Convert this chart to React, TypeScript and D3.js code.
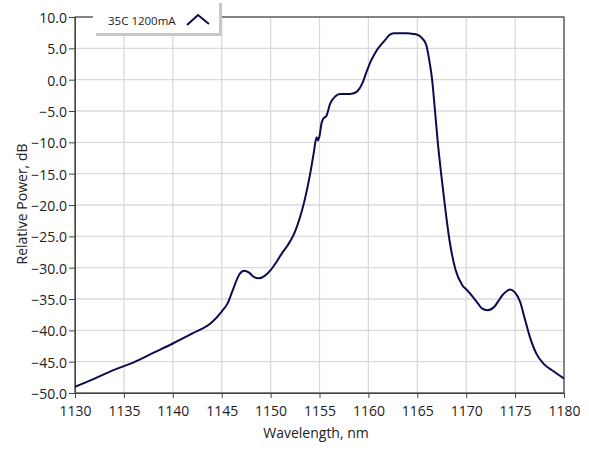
import { useEffect, useRef } from 'react';
import * as d3 from 'd3';

const wavelengths = [
  1130, 1132, 1134, 1136, 1138, 1140, 1142, 1144, 1145, 1145.6, 1146.2, 1146.8, 1147.3, 1147.8,
  1148.3, 1148.8, 1149.4, 1150, 1150.6, 1151.2, 1151.8, 1152.4, 1153, 1153.5, 1154, 1154.4,
  1154.7, 1154.85, 1155, 1155.2, 1155.4, 1155.7, 1156.1, 1156.6, 1157.1, 1157.8, 1158.4, 1158.9,
  1159.4, 1159.8, 1160.2, 1160.6, 1160.9, 1161.3, 1161.7, 1162.2, 1162.7, 1163.2, 1163.9, 1164.6,
  1165.1, 1165.5, 1165.9, 1166.1, 1166.3, 1166.5, 1166.8, 1167.1, 1167.4, 1167.8, 1168.3, 1168.9,
  1169.6, 1170.1, 1170.7, 1171.2, 1171.6, 1172.2, 1172.9, 1173.3, 1173.7, 1174.1, 1174.5, 1175,
  1175.5, 1176, 1176.5, 1177.2, 1177.9, 1178.9, 1180,
];

const powerDb = [
  -49.0, -47.7, -46.3, -45.1, -43.6, -42.1, -40.5, -38.7, -37.0, -35.7, -33.3, -31.1, -30.5, -30.8,
  -31.5, -31.7, -31.3, -30.4, -29.1, -27.6, -26.3, -24.6, -22.0, -19.1, -15.4, -11.8,
  -9.2, -9.7, -9.0, -7.0, -6.2, -5.8, -3.8, -2.7, -2.3, -2.3, -2.2, -1.8,
  -0.5, 1.2, 2.8, 4.0, 4.8, 5.6, 6.3, 7.2, 7.4, 7.4, 7.4, 7.3,
  7.1, 6.6, 5.6, 4.2, 2.4, 0.2, -4.8, -10.1, -14.5, -19.8, -25.7, -30.3,
  -32.8, -33.6, -34.7, -35.7, -36.5, -36.8, -36.2, -35.3, -34.4, -33.8, -33.5, -34.0,
  -35.4, -38.2, -41.0, -43.8, -45.3, -46.5, -47.7,
];

const xTicks = [1130, 1135, 1140, 1145, 1150, 1155, 1160, 1165, 1170, 1175, 1180];
const yTicks = [10, 5, 0, -5, -10, -15, -20, -25, -30, -35, -40, -45, -50];
const seriesName = '35C 1200mA';

export default function App() {
  const svgRef = useRef<SVGSVGElement>(null);

  useEffect(() => {
    if (!svgRef.current) return;
    const width = 589;
    const height = 456;
    const margin = { top: 17, left: 75 };
    const innerWidth = 564 - margin.left;
    const innerHeight = 393 - margin.top;
    const font = '"Open Sans", "Noto Sans", sans-serif';
    const lineColor = '#0b0b4f';

    const svg = d3.select(svgRef.current);
    svg.selectAll('*').remove();
    svg.attr('width', width).attr('height', height);

    svg.append('rect').attr('width', width).attr('height', height).attr('fill', '#fff');

    const g = svg.append('g').attr('transform', `translate(${margin.left},${margin.top})`);

    const x = d3.scaleLinear().domain([1130, 1180]).range([0, innerWidth]);
    const y = d3.scaleLinear().domain([-50, 10]).range([innerHeight, 0]);

    // grid
    g.append('g')
      .selectAll('line')
      .data(xTicks)
      .join('line')
      .attr('x1', d => x(d))
      .attr('x2', d => x(d))
      .attr('y1', 0)
      .attr('y2', innerHeight)
      .attr('stroke', '#dadada')
      .attr('stroke-width', 1.3);

    g.append('g')
      .selectAll('line')
      .data(yTicks)
      .join('line')
      .attr('x1', 0)
      .attr('x2', innerWidth)
      .attr('y1', d => y(d))
      .attr('y2', d => y(d))
      .attr('stroke', '#dadada')
      .attr('stroke-width', 1.3);

    // frame
    g.append('rect')
      .attr('width', innerWidth)
      .attr('height', innerHeight)
      .attr('fill', 'none')
      .attr('stroke', '#444')
      .attr('stroke-width', 1.2);

    // axes
    const xAxis = g.append('g')
      .attr('transform', `translate(0,${innerHeight})`)
      .call(d3.axisBottom(x).tickValues(xTicks).tickFormat(d3.format('d')).tickSize(5).tickSizeOuter(0).tickPadding(8));
    xAxis.select('.domain').attr('stroke', '#444');
    xAxis.selectAll('.tick line').attr('stroke', '#444');
    xAxis.selectAll('text')
      .style('font-family', font)
      .style('font-size', '14px')
      .style('fill', '#222');

    const yAxis = g.append('g')
      .call(d3.axisLeft(y).tickValues(yTicks).tickFormat(d3.format('.1f')).tickSize(6).tickSizeOuter(0).tickPadding(2));
    yAxis.select('.domain').attr('stroke', '#444');
    yAxis.selectAll('.tick line').attr('stroke', '#444');
    yAxis.selectAll('text')
      .attr('dy', '0.4em')
      .style('font-family', font)
      .style('font-size', '14px')
      .style('fill', '#222');

    // series
    const data = wavelengths.map((w, i) => ({ w, p: powerDb[i] }));
    const line = d3.line<{ w: number; p: number }>()
      .x(d => x(d.w))
      .y(d => y(d.p))
      .curve(d3.curveMonotoneX);

    g.append('path')
      .datum(data)
      .attr('d', line)
      .attr('fill', 'none')
      .attr('stroke', lineColor)
      .attr('stroke-width', 2)
      .attr('stroke-linejoin', 'round');

    // legend
    const legend = svg.append('g');
    legend.append('rect').attr('x', 96).attr('y', 3).attr('width', 126).attr('height', 33).attr('fill', '#c8c8c8');
    legend.append('rect').attr('x', 93).attr('y', 0).attr('width', 126).attr('height', 33).attr('fill', '#fff');
    legend.append('text')
      .attr('x', 108)
      .attr('y', 25)
      .style('font-family', font)
      .style('font-size', '11.5px')
      .style('fill', '#222')
      .text(seriesName);
    legend.append('path')
      .attr('d', 'M187,25 L198,15 L209,24')
      .attr('fill', 'none')
      .attr('stroke', lineColor)
      .attr('stroke-width', 2);

    // axis titles
    svg.append('text')
      .attr('x', 316)
      .attr('y', 438)
      .attr('text-anchor', 'middle')
      .style('font-family', font)
      .style('font-size', '14px')
      .style('fill', '#222')
      .text('Wavelength, nm');

    svg.append('text')
      .attr('transform', 'rotate(-90)')
      .attr('x', -204)
      .attr('y', 27)
      .attr('text-anchor', 'middle')
      .style('font-family', font)
      .style('font-size', '14px')
      .style('fill', '#222')
      .text('Relative Power, dB');
  }, []);

  return (
    <div style={{ position: 'absolute', left: 0, top: 0 }}>
      <svg ref={svgRef}></svg>
    </div>
  );
}
